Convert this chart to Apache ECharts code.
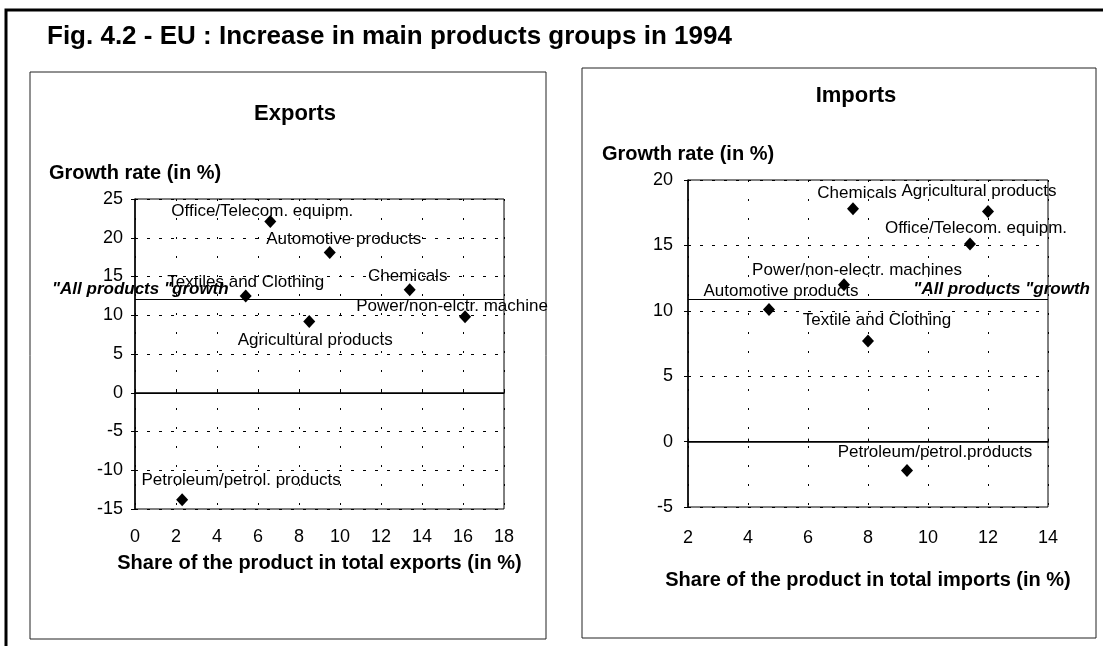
<!DOCTYPE html>
<html>
<head>
<meta charset="utf-8">
<script src="https://cdn.jsdelivr.net/npm/echarts@6/dist/echarts.min.js"></script>
<style>
html,body{margin:0;padding:0;background:#fff;}
#wrap{width:1103px;height:646px;}
</style>
</head>
<body>
<div id="wrap"></div>
<script>
// exports panel
var expNames = ['Office/Telecom. equipm.', 'Automotive products', 'Textiles and Clothing', 'Chemicals',
    'Power/non-elctr. machine', 'Agricultural products', 'Petroleum/petrol. products'];
var expShare = [6.6, 9.5, 5.4, 13.4, 16.1, 8.5, 2.3];
var expGrowth = [22.1, 18.1, 12.5, 13.3, 9.8, 9.2, -13.8];
var expAllGrowth = 12.1;
var expXTicks = [0, 18, 2];   // min, max, step
var expYTicks = [-15, 25, 5];

// imports panel
var impNames = ['Chemicals', 'Agricultural products', 'Office/Telecom. equipm.', 'Power/non-electr. machines',
    'Automotive products', 'Textile and Clothing', 'Petroleum/petrol.products'];
var impShare = [7.5, 12.0, 11.4, 7.2, 4.7, 8.0, 9.3];
var impGrowth = [17.8, 17.6, 15.1, 12.0, 10.1, 7.7, -2.2];
var impAllGrowth = 10.9;
var impXTicks = [2, 14, 2];
var impYTicks = [-5, 20, 5];

// where each point's label sits relative to its marker (px)
var expLabelPos = [[-8, -10], [14, -13], [0, -14], [-2, -13], [-13, -10], [6, 19], [59, -19]];
var impLabelPos = [[4, -15], [-9, -20], [6, -16], [13, -14], [12, -18], [9, -21], [28, -18]];

var font = "'Liberation Sans', Arial, sans-serif";

function points(names, xs, ys, offs) {
    var out = [];
    names.forEach(function(n, i) {
        out.push({name: n, value: [xs[i], ys[i]], label: {offset: offs[i]}});
    });
    return out;
}

function xAxisCfg(idx, t, title, gap, margin) {
    return {
        type: 'value', gridIndex: idx, min: t[0], max: t[1], interval: t[2],
        name: title, nameLocation: 'middle', nameGap: gap,
        nameTextStyle: {fontFamily: font, fontSize: 20, fontWeight: 'bold', color: '#000'},
        axisLine: {lineStyle: {color: '#000', width: 1.5}},
        axisTick: {show: true, inside: true, length: 3, lineStyle: {color: '#000'}},
        axisLabel: {fontFamily: font, fontSize: 18, color: '#000', margin: margin},
        splitLine: {show: true, lineStyle: {color: '#000', type: [2, 17], width: 1}}
    };
}

function yAxisCfg(idx, t, margin) {
    return {
        type: 'value', gridIndex: idx, min: t[0], max: t[1], interval: t[2],
        name: 'Growth rate (in %)', nameLocation: 'end', nameGap: 16,
        nameTextStyle: {fontFamily: font, fontSize: 20, fontWeight: 'bold', color: '#000', align: 'center'},
        axisLine: {show: true, lineStyle: {color: '#000', width: 1.5}},
        axisTick: {show: true, length: 4, lineStyle: {color: '#000'}},
        axisLabel: {fontFamily: font, fontSize: 18, color: '#000', margin: margin},
        splitLine: {show: true, lineStyle: {color: '#000', type: [3, 9], width: 1}}
    };
}

function allLabel(pos, dist) {
    return {
        show: true, position: pos, distance: dist, formatter: '"All products "growth',
        fontFamily: font, fontSize: 17, fontWeight: 'bold', fontStyle: 'italic', color: '#000',
        textBorderWidth: 0
    };
}

function seriesCfg(idx, data, allGrowth, pos, dist) {
    return {
        type: 'scatter', xAxisIndex: idx, yAxisIndex: idx,
        symbol: 'diamond', symbolSize: [12, 13],
        itemStyle: {color: '#000', opacity: 1},
        label: {show: true, position: 'inside', formatter: '{b}', fontFamily: font, fontSize: 17,
            color: '#000', textBorderWidth: 0},
        data: data,
        markLine: {
            silent: true, symbol: 'none', animation: false,
            lineStyle: {color: '#000', type: 'solid', width: 1, opacity: 1},
            data: [
                {yAxis: 0, label: {show: false}},
                {yAxis: allGrowth, label: allLabel(pos, dist)}
            ]
        }
    };
}

var chart = echarts.init(document.getElementById('wrap'));
chart.setOption({
    animation: false,
    backgroundColor: '#fff',
    title: [
        {text: 'Fig. 4.2 - EU : Increase in main products groups in 1994', left: 42, top: 19,
            textStyle: {fontFamily: font, fontSize: 26, fontWeight: 'bold', color: '#000'}},
        {text: 'Exports', left: 290, top: 98, textAlign: 'center',
            textStyle: {fontFamily: font, fontSize: 22, fontWeight: 'bold', color: '#000'}},
        {text: 'Imports', left: 851, top: 80, textAlign: 'center',
            textStyle: {fontFamily: font, fontSize: 22, fontWeight: 'bold', color: '#000'}}
    ],
    graphic: [
        {type: 'rect', silent: true, shape: {x: 6, y: 10, width: 1110, height: 650},
            style: {fill: 'none', stroke: '#000', lineWidth: 3}},
        {type: 'rect', silent: true, shape: {x: 30, y: 72, width: 516, height: 567},
            style: {fill: 'none', stroke: '#222', lineWidth: 1}},
        {type: 'rect', silent: true, shape: {x: 582, y: 68, width: 514, height: 570},
            style: {fill: 'none', stroke: '#222', lineWidth: 1}}
    ],
    grid: [
        {left: 135, top: 199, width: 369, height: 310, show: true, borderColor: '#000', borderWidth: 1},
        {left: 688, top: 180, width: 360, height: 327, show: true, borderColor: '#000', borderWidth: 1}
    ],
    xAxis: [
        xAxisCfg(0, expXTicks, 'Share of the product in total exports (in %)', 44, 19),
        xAxisCfg(1, impXTicks, 'Share of the product in total imports (in %)', 63, 22)
    ],
    yAxis: [
        yAxisCfg(0, expYTicks, 12),
        yAxisCfg(1, impYTicks, 15)
    ],
    series: [
        seriesCfg(0, points(expNames, expShare, expGrowth, expLabelPos), expAllGrowth, 'insideStartTop', [-83, 1]),
        seriesCfg(1, points(impNames, impShare, impGrowth, impLabelPos), impAllGrowth, 'insideEndTop', [-42, 1])
    ]
});
</script>
</body>
</html>
